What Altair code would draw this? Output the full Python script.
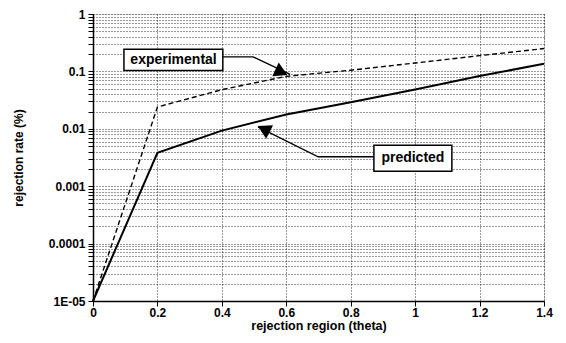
import altair as alt
import pandas as pd

# ---- data ----
theta = [0.0, 0.2, 0.4, 0.6, 0.8, 1.0, 1.2, 1.4]
experimental = [1e-5, 0.024, 0.048, 0.082, 0.105, 0.14, 0.188, 0.25]
predicted = [1e-5, 0.0038, 0.0093, 0.0178, 0.029, 0.0485, 0.083, 0.136]

x_ticks = [0, 0.2, 0.4, 0.6, 0.8, 1.0, 1.2, 1.4]
decades = [1e-5, 1e-4, 1e-3, 1e-2, 1e-1, 1.0]
decade_labels = ["1E-05", "0.0001", "0.001", "0.01", "0.1", "1"]

# annotation boxes (data units)
ann_text = ["experimental", "predicted"]
ann_x = [0.25, 0.993]
ann_y = [0.159, 0.00307]
box_x1 = [0.096, 0.872]
box_x2 = [0.403, 1.114]
box_y1 = [0.104, 0.00182]
box_y2 = [0.244, 0.00518]

# leader lines (data units)
lead_exp_x = [0.403, 0.497, 0.612]
lead_exp_y = [0.179, 0.179, 0.089]
lead_pred_x = [0.872, 0.699, 0.512]
lead_pred_y = [0.00326, 0.00326, 0.0108]

# arrow heads
head_x = [0.585, 0.53]
head_y = [0.097, 0.0099]
head_angle = [25, 207]

# minor tick positions for log axis
y_values = []
for d in decades[:-1]:
    for m in range(1, 10):
        y_values.append(round(m * d, 10))
y_values.append(1.0)

label_expr = "''"
for v, lab in zip(decades, decade_labels):
    label_expr = f"abs(datum.value - {v}) < {v}*1e-6 ? '{lab}' : ({label_expr})"

FONT = "Liberation Sans"

df = pd.DataFrame({
    "theta": theta * 2,
    "rate": experimental + predicted,
    "series": ["experimental"] * len(theta) + ["predicted"] * len(theta),
})

xscale = alt.Scale(domain=[0, 1.4], nice=False, zero=False)
yscale = alt.Scale(type="log", domain=[1e-5, 1], nice=False)

xaxis = alt.Axis(
    values=x_ticks, format="~g", title="rejection region (theta)", grid=True,
    gridDash=[1, 2], gridColor="black", gridOpacity=0.8,
    labelFont=FONT, labelFontWeight="bold", labelFontSize=12, labelColor="black",
    titleFont=FONT, titleFontWeight="bold", titleFontSize=12.5, titleColor="black",
    domainColor="black", domainWidth=1.5, tickColor="black", tickSize=5,
    labelPadding=1, titlePadding=1, labelFlush=False,
)
yaxis = alt.Axis(
    values=y_values, title="rejection rate (%)", grid=True,
    gridDash=[1, 2], gridColor="black", gridOpacity=0.8,
    labelExpr=label_expr, labelOverlap=False,
    labelFont=FONT, labelFontWeight="bold", labelFontSize=12, labelColor="black",
    titleFont=FONT, titleFontWeight="bold", titleFontSize=12, titleColor="black",
    titleX=-75, titleBaseline="middle",
    domainColor="black", domainWidth=1.5, tickColor="black", tickSize=5,
    labelPadding=3, labelFlush=False,
)

base = alt.Chart(df)

exp_line = base.transform_filter(alt.datum.series == "experimental").mark_line(
    color="black", strokeWidth=1.4, strokeDash=[5, 3]
).encode(
    x=alt.X("theta:Q", scale=xscale, axis=xaxis),
    y=alt.Y("rate:Q", scale=yscale, axis=yaxis),
)
pred_line = base.transform_filter(alt.datum.series == "predicted").mark_line(
    color="black", strokeWidth=2
).encode(x=alt.X("theta:Q", scale=xscale), y=alt.Y("rate:Q", scale=yscale))

lead_df = pd.DataFrame({
    "x": lead_exp_x + lead_pred_x,
    "y": lead_exp_y + lead_pred_y,
    "g": ["e"] * 3 + ["p"] * 3,
    "i": [0, 1, 2, 0, 1, 2],
})
leaders = alt.Chart(lead_df).mark_line(color="black", strokeWidth=1.3).encode(
    x=alt.X("x:Q", scale=xscale), y=alt.Y("y:Q", scale=yscale),
    detail="g:N", order="i:Q",
)

head_df = pd.DataFrame({"x": head_x, "y": head_y, "a": head_angle})
heads = alt.Chart(head_df).mark_point(
    shape="triangle-right", filled=True, color="black", size=230, opacity=1
).encode(
    x=alt.X("x:Q", scale=xscale), y=alt.Y("y:Q", scale=yscale),
    angle=alt.Angle("a:Q", scale=None),
)

box_df = pd.DataFrame({"x1": box_x1, "x2": box_x2, "y1": box_y1, "y2": box_y2,
                       "tx": ann_x, "ty": ann_y, "t": ann_text})
boxes = alt.Chart(box_df).mark_rect(fill="white", stroke="black", strokeWidth=1.5).encode(
    x=alt.X("x1:Q", scale=xscale), x2="x2:Q",
    y=alt.Y("y1:Q", scale=yscale), y2="y2:Q",
)
texts = alt.Chart(box_df).mark_text(
    font=FONT, fontWeight="bold", fontSize=14, color="black"
).encode(x=alt.X("tx:Q", scale=xscale), y=alt.Y("ty:Q", scale=yscale), text="t:N")

chart = alt.layer(exp_line, pred_line, leaders, heads, boxes, texts).properties(
    width=451, height=287,
    autosize=alt.AutoSizeParams(type="none"),
    padding={"left": 85, "top": 6, "right": 14, "bottom": 34},
).configure_view(stroke="black", strokeWidth=1.5).configure(background="white")

chart.save("out.html", embed_options={"renderer": "svg", "actions": False})
